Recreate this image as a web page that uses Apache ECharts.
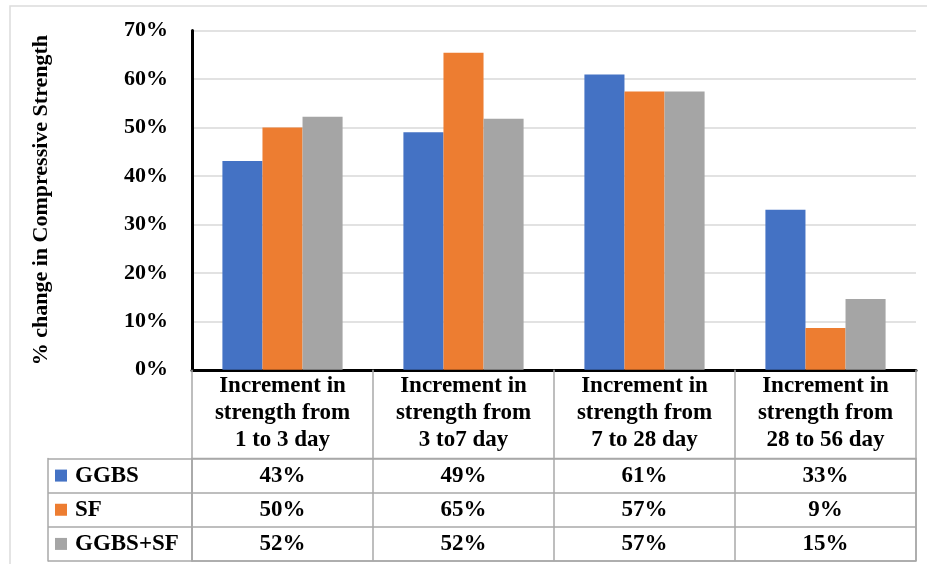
<!DOCTYPE html>
<html>
<head>
<meta charset="utf-8">
<script src="https://cdn.jsdelivr.net/npm/echarts@6/dist/echarts.min.js"></script>
<style>
  html, body { margin: 0; padding: 0; background: #fff; }
  #chart { width: 927px; height: 564px; }
</style>
</head>
<body>
<div id="chart"></div>
<script>
// Strength-gain intervals (x categories, shown as the table header)
const categories = [
  'Increment in\nstrength from\n1 to 3 day',
  'Increment in\nstrength from\n3 to7 day',
  'Increment in\nstrength from\n7 to 28 day',
  'Increment in\nstrength from\n28 to 56 day'
];
// Mixes (series / table rows)
const seriesNames = ['GGBS', 'SF', 'GGBS+SF'];
// % change in compressive strength for each mix
const ggbs   = [43.1, 49.0, 60.9, 33.0];
const sf     = [50.0, 65.4, 57.4, 8.6];
const ggbsSf = [52.2, 51.8, 57.4, 14.6];
// Value axis ticks (%)
const yMin = 0, yMax = 70, yStep = 10;

const seriesValues = [ggbs, sf, ggbsSf];
const colors = ['#4472C4', '#ED7D31', '#A5A5A5'];
const FONT = "'Liberation Serif', 'Times New Roman', serif";
const TABLE_LINE = '#a9a9a9';

// Cells of the data table: [column, row, value]
const tableCells = [];
seriesValues.forEach((vals, r) => vals.forEach((v, c) => tableCells.push([c, r, v])));

const richRow = {
  t: { fontFamily: FONT, fontWeight: 'bold', fontSize: 23, color: '#000', padding: [0, 0, 0, 8] }
};
colors.forEach((col, i) => {
  richRow['s' + i] = { width: 12, height: 12, backgroundColor: col };
});

const chart = echarts.init(document.getElementById('chart'), null, { renderer: 'canvas' });

chart.setOption({
  backgroundColor: '#fff',
  animation: false,
  graphic: [{
    type: 'rect',
    silent: true,
    z: -10,
    shape: { x: 10, y: 6, width: 1200, height: 1000 },
    style: { fill: null, stroke: '#dcdcdc', lineWidth: 1.5 }
  }],
  grid: [
    { left: 192, right: 11, top: 30.5, bottom: 194.2 },
    { left: 192, right: 11, top: 458.5, bottom: 3, show: true,
      borderColor: TABLE_LINE, borderWidth: 1.5, backgroundColor: 'transparent' }
  ],
  xAxis: [
    {
      type: 'category', gridIndex: 0, data: categories,
      axisLine: { show: true, lineStyle: { color: '#000', width: 3 } },
      axisTick: { show: true, length: 89, lineStyle: { color: TABLE_LINE, width: 1.5 } },
      axisLabel: {
        interval: 0, margin: 3, color: '#000',
        fontFamily: FONT, fontWeight: 'bold', fontSize: 23, lineHeight: 27
      },
      splitLine: { show: false }
    },
    {
      type: 'category', gridIndex: 1, data: categories,
      axisLine: { show: false }, axisTick: { show: false }, axisLabel: { show: false },
      splitLine: { show: true, lineStyle: { color: TABLE_LINE, width: 1.5 } }
    }
  ],
  yAxis: [
    {
      type: 'value', gridIndex: 0, min: yMin, max: yMax, interval: yStep,
      name: '% change in Compressive Strength',
      nameLocation: 'middle', nameGap: 140,
      nameTextStyle: { fontFamily: FONT, fontWeight: 'bold', fontSize: 22, color: '#000' },
      axisLine: { show: true, lineStyle: { color: '#000', width: 3 } },
      axisTick: { show: false },
      axisLabel: {
        formatter: '{value}%', margin: 24, color: '#000',
        fontFamily: FONT, fontWeight: 'bold', fontSize: 22
      },
      splitLine: { show: true, lineStyle: { color: '#d9d9d9', width: 1.5 } }
    },
    {
      type: 'category', gridIndex: 1, data: seriesNames, inverse: true,
      axisLine: { show: true, lineStyle: { color: TABLE_LINE, width: 1.5 } },
      axisTick: { show: true, length: 144, lineStyle: { color: TABLE_LINE, width: 1.5 } },
      axisLabel: {
        align: 'left', margin: 137,
        formatter: (v, i) => '{s' + i + '|}{t|' + v + '}',
        rich: richRow
      },
      splitLine: { show: true, lineStyle: { color: TABLE_LINE, width: 1.5 } }
    },
    {
      // left border of the legend column
      type: 'category', gridIndex: 1, data: seriesNames, position: 'left', offset: 144,
      axisLine: { show: true, lineStyle: { color: TABLE_LINE, width: 1.5 } },
      axisTick: { show: false }, axisLabel: { show: false }, splitLine: { show: false }
    }
  ],
  series: seriesNames.map((name, i) => ({
    name, type: 'bar', xAxisIndex: 0, yAxisIndex: 0,
    data: seriesValues[i],
    barGap: '0%', barCategoryGap: '33.6%',
    itemStyle: { color: colors[i] }
  })).concat([{
    name: 'table',
    type: 'scatter', xAxisIndex: 1, yAxisIndex: 1,
    data: tableCells,
    symbol: 'rect', symbolSize: 1,
    itemStyle: { color: '#fff', opacity: 1 },
    silent: true,
    label: {
      show: true, position: ['50%', '50%'], align: 'center', verticalAlign: 'middle',
      color: '#000', textBorderWidth: 0,
      fontFamily: FONT, fontWeight: 'bold', fontSize: 23,
      formatter: p => Math.round(p.value[2]) + '%'
    }
  }])
});
</script>
</body>
</html>
